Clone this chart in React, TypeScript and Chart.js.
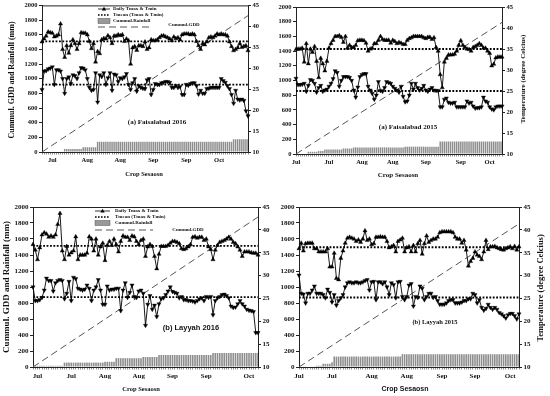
import React, { useEffect, useRef } from 'react';
import { Chart, registerables } from 'chart.js';
Chart.register(...registerables);

// ---- shared categories: crop-season day index ----
const days: number[] = Array.from({ length: 101 }, (_, i) => i);

// ---- (a) Faisalabad 2016 ----
const p1Tmax = [36.3,37.0,37.7,38.7,38.5,38.4,37.5,37.7,38.0,40.6,
34.5,32.6,35.4,33.6,35.4,36.8,35.9,34.5,35.9,38.5,
38.4,38.4,38.0,36.4,34.7,35.9,31.5,34.0,33.5,36.8,
37.1,37.0,37.8,37.3,35.9,37.7,37.7,38.0,37.8,38.0,
36.4,37.0,36.6,31.0,34.9,35.2,34.3,35.4,35.4,35.2,
36.3,34.5,34.9,36.8,36.6,36.6,36.8,37.3,37.7,37.8,
37.5,37.3,37.0,36.6,37.5,37.1,37.3,36.8,38.0,38.2,
38.2,38.2,38.0,38.2,38.0,36.4,35.4,34.5,35.9,35.6,
36.3,37.3,37.5,37.3,37.7,38.2,38.0,38.2,38.0,38.0,
37.7,36.3,35.2,34.2,34.5,34.9,35.9,35.0,35.2,35.4,
34.2];
const p1Tmin = [24.9,29.3,29.4,29.8,30.0,30.3,26.1,29.6,29.6,29.3,
27.5,24.0,27.5,27.9,26.3,28.4,28.2,27.5,28.9,30.1,
30.0,29.6,27.5,25.4,24.7,24.9,28.9,21.9,28.4,28.0,
28.9,26.1,27.7,28.9,24.7,28.6,28.4,26.8,27.7,27.5,
27.9,28.7,26.1,24.9,26.5,27.5,24.5,25.8,25.4,25.2,
25.1,27.2,27.5,23.7,24.9,26.3,26.1,26.1,26.5,26.6,
26.8,26.8,26.6,25.4,25.4,25.8,25.4,25.6,23.7,23.7,
26.1,25.9,26.3,26.5,26.5,25.8,23.8,24.7,24.0,24.0,
25.1,25.2,25.4,25.4,25.4,25.4,25.4,27.5,27.0,26.6,
25.8,25.1,23.7,21.6,24.7,22.6,22.4,22.6,22.3,19.8,
18.6];
const p1Rain = [0,0,0,0,0,0,0,0,0,0,0,
40,40,40,40,40,40,40,40,40,
65,65,65,65,65,65,65,
140,140,140,140,140,140,140,140,140,140,140,
140,140,140,140,140,140,140,140,140,140,140,
140,140,140,140,140,140,140,140,140,140,140,
140,140,140,140,140,140,140,140,140,140,140,
140,140,140,140,140,140,140,140,140,140,140,
140,140,140,140,140,140,140,140,140,140,140,
175,175,175,175,175,175,175,175];
const p1GddDay = [0, 50, 100];
const p1Gdd = [0, 930, 1860];
const p1TmaxMean = 36.4;
const p1TminMean = 26.1;
const p1TickDay = [5, 22, 38, 54, 70, 86];
const p1TickText = ['Jul', 'Aug', 'Aug', 'Sep', 'Sep', 'Oct'];

// ---- (a) Faisalabad 2015 ----
const p2Tmax = [34.9,35.0,35.0,35.2,31.9,36.3,31.5,35.0,34.2,35.6,
32.1,28.2,32.8,31.5,29.8,32.1,35.2,36.3,37.1,38.0,
38.0,38.2,37.8,36.6,38.0,35.2,35.9,35.4,35.4,35.9,
37.0,37.1,37.1,37.0,36.4,34.5,35.0,35.2,36.3,36.3,
37.1,38.0,37.3,37.1,37.1,37.1,36.4,37.1,36.8,36.3,
36.6,36.4,36.1,36.1,37.1,37.5,37.7,38.0,38.0,38.0,
38.0,38.0,37.7,37.5,37.8,37.8,37.3,37.7,35.4,34.5,
28.9,25.8,31.9,32.8,33.6,33.6,33.6,33.8,34.5,35.9,
37.0,35.9,35.4,35.0,34.9,34.5,35.4,35.6,35.9,36.3,
35.9,35.2,35.2,34.5,34.0,31.0,31.4,32.9,33.1,33.1,
33.1];
const p2Tmin = [28.0,26.5,26.5,26.6,26.8,24.9,26.3,27.7,27.5,26.8,
24.7,25.8,26.3,24.9,25.2,25.4,26.1,26.8,27.9,29.8,
29.4,26.1,27.5,28.4,28.4,28.4,28.2,27.5,25.2,23.5,
25.9,28.4,28.9,29.1,29.1,26.1,25.2,24.4,23.0,24.0,
27.2,25.1,24.9,25.8,27.2,27.0,26.8,26.1,25.6,25.2,
24.7,26.1,23.7,22.4,22.6,24.0,26.8,25.4,26.8,25.8,
25.2,25.6,26.3,25.2,24.9,25.4,25.8,25.2,25.1,25.1,
21.2,21.2,23.0,23.3,22.3,22.1,22.1,22.3,21.2,21.2,
21.2,21.2,21.2,22.6,22.1,22.3,21.4,20.9,21.0,21.0,
21.2,23.5,22.6,22.3,21.2,20.7,20.5,21.2,21.4,21.4,
21.4];
const p2Rain = [0,0,0,0,0,0,
30,30,30,30,30,
40,40,40,
60,60,60,60,60,60,60,60,60,
75,75,75,75,75,
90,90,90,90,90,90,90,90,90,90,90,90,90,90,90,90,90,90,90,90,90,90,90,90,90,
100,100,100,100,100,100,100,100,100,100,100,100,100,100,100,100,100,
170,170,170,170,170,170,170,170,170,170,170,170,170,170,170,170,
170,170,170,170,170,170,170,170,170,170,170,170,170,170,170];
const p2GddDay = [0, 50, 100];
const p2Gdd = [0, 895, 1790];
const p2TmaxMean = 35.0;
const p2TminMean = 25.0;
const p2TickDay = [0, 16, 32, 47, 63, 80, 94];
const p2TickText = ['Jul', 'Jul', 'Aug', 'Aug', 'Sep', 'Sep', 'Oct'];

// ---- (b) Layyah 2016 ----
const p3Tmax = [36.8,35.6,33.5,36.1,38.9,39.4,39.1,38.4,38.7,38.4,
38.9,41.2,43.6,35.4,33.5,36.4,34.5,35.0,35.4,38.5,
33.5,34.5,34.5,34.5,34.9,38.5,38.0,35.4,38.0,34.5,
36.3,37.1,33.3,36.6,37.5,36.6,38.0,36.8,35.2,37.5,
38.7,38.4,38.4,37.7,38.7,38.5,37.5,36.8,37.7,38.0,
34.2,36.3,36.8,36.4,34.2,31.5,34.7,36.4,36.4,36.4,
36.6,37.1,37.5,37.5,37.3,37.0,35.9,35.7,35.9,36.3,
36.8,38.4,38.5,38.2,38.4,38.4,37.7,38.0,36.3,35.7,
33.5,35.6,36.6,37.3,37.5,37.7,38.0,38.4,38.0,37.3,
37.0,36.3,35.6,34.2,35.2,35.2,35.2,35.0,34.9,34.9,
34.5];
const p3Tmin = [27.5,24.5,24.5,24.7,25.2,26.8,29.4,28.9,28.9,26.6,
28.4,28.9,29.1,28.9,24.9,26.1,28.7,24.5,29.6,29.3,
27.2,27.0,26.8,27.0,27.9,27.2,24.5,26.8,27.5,29.1,
26.8,23.7,23.7,27.7,26.8,27.0,27.0,27.2,27.2,22.3,
26.8,28.4,25.2,26.3,27.9,25.4,25.2,26.6,26.8,26.1,
19.1,23.7,25.6,22.6,23.5,21.0,23.8,24.9,25.1,25.8,
26.6,27.5,26.5,26.3,26.1,25.1,25.4,24.7,24.7,24.5,
24.5,24.4,24.2,24.5,24.9,25.1,24.5,25.4,25.2,25.4,
21.4,24.5,25.1,25.4,25.8,25.9,25.6,25.1,23.3,23.0,
23.1,23.8,24.5,23.8,23.3,22.6,22.4,22.3,22.1,17.5,
17.5];
const p3Rain = [15,15,15,15,15,15,15,15,15,15,15,15,15,15,
55,55,55,55,55,55,55,55,55,55,55,55,55,55,55,55,55,55,
65,65,65,65,65,
110,110,110,110,110,110,110,110,110,110,110,110,
125,125,125,125,125,125,125,
150,150,150,150,150,150,150,150,150,150,150,150,
150,150,150,150,150,150,150,150,150,150,150,150,
175,175,175,175,175,175,175,175,175,175,175,
175,175,175,175,175,175,175,175,175,175];
const p3GddDay = [0, 50, 100];
const p3Gdd = [0, 935, 1875];
const p3TmaxMean = 36.5;
const p3TminMean = 25.3;
const p3TickDay = [2, 17, 32, 47, 62, 77, 96];
const p3TickText = ['Jul', 'Jul', 'Aug', 'Aug', 'Sep', 'Sep', 'Oct'];

// ---- (b) Layyah 2015 ----
const p4Tmax = [35.9,37.1,35.4,37.0,37.1,37.1,37.1,35.9,35.9,35.2,
35.2,35.2,35.2,35.9,31.9,31.9,34.9,29.4,29.1,33.8,
35.4,37.1,38.2,38.4,38.2,38.0,37.5,37.8,37.3,38.0,
39.8,37.7,38.0,36.8,37.0,38.4,38.4,38.5,38.4,38.4,
37.5,36.1,36.3,36.6,35.2,37.5,37.8,38.2,35.2,36.1,
36.3,35.2,36.6,35.2,37.0,37.7,34.7,37.0,38.7,37.3,
37.7,38.0,38.0,38.4,39.4,39.6,39.6,39.6,39.6,39.6,
39.4,38.4,38.0,38.0,37.1,37.7,35.6,32.1,33.1,33.8,
35.2,34.5,34.2,33.5,35.2,37.7,35.7,36.3,36.3,36.4,
36.1,35.9,35.7,35.6,35.9,36.1,36.3,35.9,36.4,35.6,
36.3];
const p4Tmin = [30.1,26.1,25.9,24.0,26.1,26.1,26.8,27.7,26.1,26.1,
26.1,25.8,25.1,27.0,26.3,24.2,25.8,23.5,24.5,25.1,
25.8,27.5,28.4,28.6,28.4,28.4,28.6,28.4,28.4,28.6,
28.9,29.1,26.8,28.6,28.7,24.7,28.6,28.6,28.2,28.6,
27.5,25.8,28.4,28.0,25.1,28.6,28.7,25.4,24.7,25.4,
27.9,28.2,23.3,25.4,25.2,27.7,27.2,24.7,25.4,26.1,
26.1,25.2,25.4,24.5,23.7,23.7,23.7,24.0,24.5,24.7,
24.7,24.0,24.0,24.0,24.2,24.5,24.5,24.9,24.9,26.1,
25.8,24.0,24.7,23.0,22.4,22.8,23.7,23.0,22.6,23.0,
22.6,21.9,21.6,21.2,20.7,21.4,21.7,21.7,21.2,20.5,
21.6];
const p4Rain = [5,5,5,5,5,5,5,5,
15,15,15,
40,40,40,40,
60,
130,130,130,130,130,130,130,130,130,130,130,130,130,130,130,130,
130,130,130,130,130,130,130,130,130,130,130,130,130,130,130,
160,160,160,160,160,160,160,160,160,160,160,160,160,160,160,160,160,160,
160,160,160,160,160,160,160,160,160,160,160,160,160,160,160,160,160,160,
160,160,160,160,160,160,160,160,160,160,160,160,160,160,160,160,160,160];
const p4GddDay = [0, 50, 100];
const p4Gdd = [0, 895, 1790];
const p4TmaxMean = 36.2;
const p4TminMean = 25.2;
const p4TickDay = [0, 15, 33, 49, 65, 80, 96];
const p4TickText = ['Jul', 'Jul', 'Aug', 'Aug', 'Sep', 'Sep', 'Oct'];

const SERIF = '"Liberation Serif", "DejaVu Serif", serif';
const SANS = '"Liberation Sans", Arial, sans-serif';

type TextItem = { text: string; x: number; y: number; size: number; family: string; rot?: number };

type PanelCfg = {
  box: { x: number; y: number; w: number; h: number };
  area: { l: number; t: number; r: number; b: number };
  tmax: number[]; tmin: number[]; rain: number[];
  gddDay: number[]; gdd: number[];
  tmaxMean: number; tminMean: number;
  tickDay: number[]; tickText: string[];
  tickSize: number;
  texts: TextItem[];
  legend?: { x0: number; x1: number; tx: number; ys: number[]; dashEnd: number; gx: number; gy: number };
};

const panels: PanelCfg[] = [
  {
    box: { x: 0, y: 0, w: 278, h: 185 },
    area: { l: 42, t: 5, r: 248, b: 152 },
    tmax: p1Tmax, tmin: p1Tmin, rain: p1Rain, gddDay: p1GddDay, gdd: p1Gdd,
    tmaxMean: p1TmaxMean, tminMean: p1TminMean, tickDay: p1TickDay, tickText: p1TickText,
    tickSize: 6.5,
    texts: [
      { text: 'Cummul. GDD and Rainfall (mm)', x: 12, y: 80, size: 8, family: SERIF, rot: -90 },
      { text: 'Crop Sesaosn', x: 144, y: 174, size: 6.5, family: SERIF },
      { text: '(a) Faisalabad 2016', x: 157, y: 122, size: 7, family: SERIF },
    ],
    legend: { x0: 98, x1: 110, tx: 113, ys: [9, 15, 21, 27], dashEnd: 152, gx: 184, gy: 25 },
  },
  {
    box: { x: 270, y: 0, w: 280, h: 185 },
    area: { l: 296, t: 7, r: 502, b: 154 },
    tmax: p2Tmax, tmin: p2Tmin, rain: p2Rain, gddDay: p2GddDay, gdd: p2Gdd,
    tmaxMean: p2TmaxMean, tminMean: p2TminMean, tickDay: p2TickDay, tickText: p2TickText,
    tickSize: 6.5,
    texts: [
      { text: 'Temperature (degree Celcius)', x: 523, y: 79, size: 7, family: SERIF, rot: -90 },
      { text: 'Crop Sesaosn', x: 398, y: 175, size: 7, family: SERIF },
      { text: '(a) Faisalabad 2015', x: 408, y: 127, size: 7, family: SERIF },
    ],
  },
  {
    box: { x: 0, y: 196, w: 280, h: 200 },
    area: { l: 33, t: 207, r: 258, b: 367 },
    tmax: p3Tmax, tmin: p3Tmin, rain: p3Rain, gddDay: p3GddDay, gdd: p3Gdd,
    tmaxMean: p3TmaxMean, tminMean: p3TminMean, tickDay: p3TickDay, tickText: p3TickText,
    tickSize: 7,
    texts: [
      { text: 'Cummul. GDD and Rainfall (mm)', x: 7, y: 287, size: 9, family: SERIF, rot: -90 },
      { text: 'Crop Sesaosn', x: 141, y: 389, size: 6.5, family: SERIF },
      { text: '(b) Layyah 2016', x: 191, y: 328, size: 7.5, family: SANS },
    ],
    legend: { x0: 95, x1: 110, tx: 115, ys: [211, 217, 223, 230], dashEnd: 153, gx: 188, gy: 230 },
  },
  {
    box: { x: 270, y: 196, w: 280, h: 200 },
    area: { l: 299, t: 207, r: 519, b: 367 },
    tmax: p4Tmax, tmin: p4Tmin, rain: p4Rain, gddDay: p4GddDay, gdd: p4Gdd,
    tmaxMean: p4TmaxMean, tminMean: p4TminMean, tickDay: p4TickDay, tickText: p4TickText,
    tickSize: 7,
    texts: [
      { text: 'Temperature (degree Celcius)', x: 541, y: 288, size: 8.5, family: SERIF, rot: -90 },
      { text: 'Crop Sesaosn', x: 405, y: 389, size: 7, family: SANS },
      { text: '(b) Layyah 2015', x: 435, y: 322, size: 6.5, family: SERIF },
    ],
  },
];

function Panel({ cfg }: { cfg: PanelCfg }) {
  const ref = useRef<HTMLCanvasElement>(null);
  useEffect(() => {
    const c = cfg;
    const leftW = c.area.l - c.box.x;
    const rightW = c.box.x + c.box.w - c.area.r;
    const topPad = c.area.t - c.box.y;
    const bottomH = c.box.y + c.box.h - c.area.b;
    const labels = days.map((d) => {
      const k = c.tickDay.indexOf(d);
      return k >= 0 ? c.tickText[k] : '';
    });
    const gddLine = days.map((d) => {
      const k = c.gddDay.indexOf(d);
      return k >= 0 ? c.gdd[k] : null;
    });
    const tmaxMeanLine = days.map(() => c.tmaxMean);
    const tminMeanLine = days.map(() => c.tminMean);
    const tickFont = { family: SERIF, size: c.tickSize, weight: 'bold' as const };
    const ox = c.box.x;
    const oy = c.box.y;

    const overlay = {
      id: 'overlay',
      afterDraw(chart: any) {
        const ctx: CanvasRenderingContext2D = chart.ctx;
        const ca = chart.chartArea;
        ctx.save();
        ctx.strokeStyle = '#222';
        ctx.lineWidth = 1;
        ctx.beginPath();
        ctx.moveTo(ca.left, ca.top + 0.5);
        ctx.lineTo(ca.right, ca.top + 0.5);
        ctx.stroke();
        ctx.fillStyle = '#111';
        ctx.textAlign = 'center';
        ctx.textBaseline = 'middle';
        for (const t of c.texts) {
          ctx.save();
          ctx.font = `bold ${t.size}px ${t.family}`;
          ctx.translate(t.x - ox, t.y - oy);
          if (t.rot) ctx.rotate((t.rot * Math.PI) / 180);
          ctx.fillText(t.text, 0, 0);
          ctx.restore();
        }
        const lg = c.legend;
        if (lg) {
          const x0 = lg.x0 - ox, x1 = lg.x1 - ox, tx = lg.tx - ox;
          const ys = lg.ys.map((v) => v - oy);
          ctx.font = `bold 5px ${SERIF}`;
          ctx.textAlign = 'left';
          ctx.fillStyle = '#111';
          ctx.strokeStyle = '#000';
          ctx.lineWidth = 0.8;
          ctx.setLineDash([]);
          ctx.beginPath(); ctx.moveTo(x0, ys[0]); ctx.lineTo(x1, ys[0]); ctx.stroke();
          const mx = (x0 + x1) / 2;
          ctx.fillStyle = '#000';
          ctx.beginPath(); ctx.moveTo(mx, ys[0] - 2.2); ctx.lineTo(mx + 2.2, ys[0] + 1.6); ctx.lineTo(mx - 2.2, ys[0] + 1.6); ctx.closePath(); ctx.fill();
          ctx.fillStyle = '#111';
          ctx.fillText('Daily Tmax & Tmin', tx, ys[0]);
          ctx.lineWidth = 1.6;
          ctx.setLineDash([1.6, 1.4]);
          ctx.beginPath(); ctx.moveTo(x0, ys[1]); ctx.lineTo(x1, ys[1]); ctx.stroke();
          ctx.setLineDash([]);
          ctx.fillText('Tmean (Tmax & Tmin)', tx, ys[1]);
          ctx.fillStyle = '#999';
          ctx.fillRect(x0, ys[2] - 2.5, x1 - x0, 5);
          ctx.strokeStyle = '#555';
          ctx.lineWidth = 0.5;
          ctx.strokeRect(x0, ys[2] - 2.5, x1 - x0, 5);
          ctx.fillStyle = '#111';
          ctx.fillText('Cummul.Rainfall', tx, ys[2]);
          ctx.strokeStyle = '#555';
          ctx.lineWidth = 1;
          ctx.setLineDash([7, 4]);
          ctx.beginPath(); ctx.moveTo(x0, ys[3]); ctx.lineTo(lg.dashEnd - ox, ys[3]); ctx.stroke();
          ctx.setLineDash([]);
          ctx.textAlign = 'center';
          ctx.fillText('Cummul.GDD', lg.gx - ox, lg.gy - oy);
        }
        ctx.restore();
      },
    };

    const chart = new Chart(ref.current as HTMLCanvasElement, {
      type: 'line',
      data: {
        labels,
        datasets: [
          {
            type: 'bar', data: c.rain, yAxisID: 'y', backgroundColor: '#8e8e8e',
            barPercentage: 1, categoryPercentage: 0.72, order: 6,
          } as any,
          {
            data: gddLine, yAxisID: 'y', borderColor: '#555', borderWidth: 1,
            borderDash: [7, 4], pointRadius: 0, spanGaps: true, order: 5,
          },
          {
            data: tmaxMeanLine, yAxisID: 'y1', borderColor: '#000', borderWidth: 1.8,
            borderDash: [1.8, 1.6], pointRadius: 0, order: 4,
          },
          {
            data: tminMeanLine, yAxisID: 'y1', borderColor: '#000', borderWidth: 1.8,
            borderDash: [1.8, 1.6], pointRadius: 0, order: 3,
          },
          {
            data: c.tmax, yAxisID: 'y1', borderColor: '#000', borderWidth: 0.9,
            pointStyle: 'triangle', pointRadius: 2.4, pointBackgroundColor: '#000',
            pointBorderColor: '#000', pointBorderWidth: 0.4, order: 2,
          },
          {
            data: c.tmin, yAxisID: 'y1', borderColor: '#000', borderWidth: 0.9,
            pointStyle: 'triangle', pointRotation: 180, pointRadius: 2.4, pointBackgroundColor: '#000',
            pointBorderColor: '#000', pointBorderWidth: 0.4, order: 1,
          },
        ],
      },
      options: {
        responsive: false,
        animation: false,
        events: [],
        layout: { padding: { left: 0, right: 0, top: topPad, bottom: 0 } },
        plugins: { legend: { display: false }, tooltip: { enabled: false } },
        scales: {
          x: {
            type: 'category', offset: false,
            grid: { drawOnChartArea: false, offset: false, tickLength: 2.5, color: '#444', lineWidth: 0.6 },
            border: { color: '#222', width: 1 },
            ticks: { autoSkip: false, maxRotation: 0, minRotation: 0, padding: 2, font: tickFont, color: '#111' },
            afterFit: (s: any) => { s.height = bottomH; },
          },
          y: {
            position: 'left', min: 0, max: 2000,
            grid: { drawOnChartArea: false, tickLength: 3, color: '#222' },
            border: { color: '#222', width: 1 },
            ticks: { stepSize: 200, padding: 1.5, font: tickFont, color: '#111', callback: (v: any) => String(v) },
            afterFit: (s: any) => { s.width = leftW; },
          },
          y1: {
            position: 'right', min: 10, max: 45,
            grid: { drawOnChartArea: false, tickLength: 3, color: '#222' },
            border: { color: '#222', width: 1 },
            ticks: { stepSize: 5, padding: 1.5, font: tickFont, color: '#111', callback: (v: any) => String(v) },
            afterFit: (s: any) => { s.width = rightW; },
          },
        },
      } as any,
      plugins: [overlay],
    });
    return () => chart.destroy();
  }, [cfg]);
  return (
    <canvas
      ref={ref}
      width={cfg.box.w}
      height={cfg.box.h}
      style={{ position: 'absolute', left: cfg.box.x, top: cfg.box.y, width: cfg.box.w, height: cfg.box.h }}
    />
  );
}

export default function App() {
  return (
    <div style={{ position: 'fixed', left: 0, top: 0, width: 550, height: 396, background: '#fff', overflow: 'hidden' }}>
      {panels.map((p, i) => (
        <Panel key={i} cfg={p} />
      ))}
    </div>
  );
}
